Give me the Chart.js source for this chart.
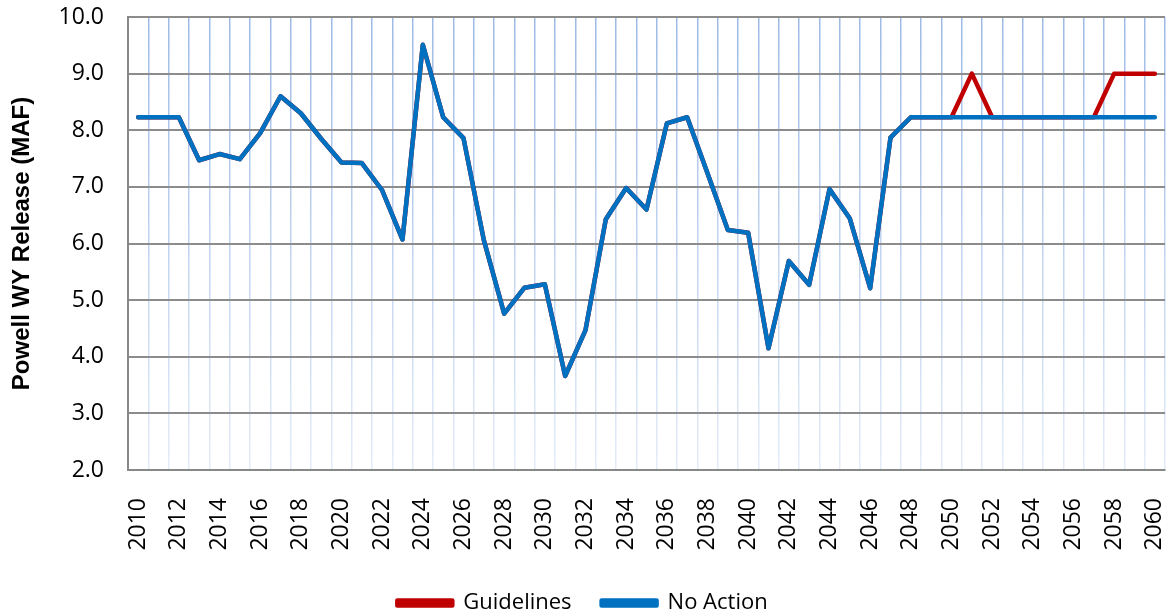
<!DOCTYPE html>
<html>
<head>
<meta charset="utf-8">
<script src="https://cdn.jsdelivr.net/npm/chart.js@4"></script>
<style>
  html, body { margin: 0; padding: 0; background: #fff; }
  #wrap { width: 1170px; height: 616px; }
</style>
</head>
<body>
<div id="wrap"><canvas id="c" width="1170" height="616"></canvas></div>
<script>
const years = [];
for (let y = 2010; y <= 2060; y++) years.push(String(y));

const noAction = [
  8.23, 8.23, 8.23, 7.47, 7.58, 7.49, 7.95, 8.60, 8.30, 7.85,
  7.43, 7.42, 6.94, 6.07, 9.51, 8.23, 7.86, 6.06, 4.76, 5.22,
  5.28, 3.66, 4.47, 6.43, 6.98, 6.60, 8.12, 8.23, 7.24, 6.24,
  6.19, 4.15, 5.69, 5.27, 6.96, 6.44, 5.21, 7.87, 8.23, 8.23,
  8.23, 8.23, 8.23, 8.23, 8.23, 8.23, 8.23, 8.23, 8.23, 8.23,
  8.23
];
const guidelines = [
  8.23, 8.23, 8.23, 7.47, 7.58, 7.49, 7.95, 8.60, 8.30, 7.85,
  7.43, 7.42, 6.94, 6.07, 9.51, 8.23, 7.86, 6.06, 4.76, 5.22,
  5.28, 3.66, 4.47, 6.43, 6.98, 6.60, 8.12, 8.23, 7.24, 6.24,
  6.19, 4.15, 5.69, 5.27, 6.96, 6.44, 5.21, 7.87, 8.23, 8.23,
  8.23, 9.00, 8.23, 8.23, 8.23, 8.23, 8.23, 8.23, 9.00, 9.00,
  9.00
];

const font = '"Open Sans", "Liberation Sans", sans-serif';

// vertical gridlines fade out toward the bottom, like the excel chart
function vGrid(ctx) {
  const area = ctx.chart.chartArea;
  if (!area) return '#A9C3EA';
  const g = ctx.chart.ctx.createLinearGradient(0, area.top, 0, area.bottom);
  g.addColorStop(0, '#9DBAE6');
  g.addColorStop(1, '#E4ECF8');
  return g;
}

// squeeze the legend box so it sits near the bottom edge
const legendFit = {
  id: 'legendFit',
  beforeUpdate(chart) {
    const lg = chart.legend;
    if (!lg || lg._fitWrapped) return;
    const fit = lg.fit;
    lg.fit = function () {
      fit.call(this);
      this.height = 54;
    };
    lg._fitWrapped = true;
  }
};

new Chart(document.getElementById('c'), {
  type: 'line',
  data: {
    labels: years,
    datasets: [
      {
        label: 'Guidelines',
        data: guidelines,
        borderColor: '#C00000',
        backgroundColor: '#C00000',
        borderWidth: 4.5,
        borderCapStyle: 'round',
        borderJoinStyle: 'round',
        pointRadius: 0,
        tension: 0,
        order: 1
      },
      {
        label: 'No Action',
        data: noAction,
        borderColor: '#0070C0',
        backgroundColor: '#0070C0',
        borderWidth: 4.5,
        borderCapStyle: 'round',
        borderJoinStyle: 'round',
        pointRadius: 0,
        tension: 0,
        order: 0
      }
    ]
  },
  plugins: [legendFit],
  options: {
    responsive: false,
    animation: false,
    layout: { padding: { top: 17, right: 5, left: 0, bottom: 0 } },
    plugins: {
      tooltip: { enabled: false },
      legend: {
        position: 'bottom',
        labels: {
          sort: (a, b) => a.datasetIndex - b.datasetIndex,
          boxWidth: 55,
          boxHeight: 5,
          padding: 30,
          color: '#000',
          font: { family: font, size: 22 }
        }
      }
    },
    scales: {
      x: {
        offset: true,
        grid: {
          offset: true,
          color: vGrid,
          lineWidth: 1.5,
          drawTicks: false
        },
        border: { color: '#888', width: 2 },
        ticks: {
          autoSkip: false,
          maxRotation: 90,
          minRotation: 90,
          padding: 28,
          color: '#000',
          font: { family: font, size: 23 },
          callback: function (v, i) { return i % 2 === 0 ? this.getLabelForValue(v) : ''; }
        },
        afterFit: s => { s.height = 92; s.paddingLeft = 0; s.paddingRight = 0; }
      },
      y: {
        min: 2,
        max: 10,
        grid: { color: '#8c8c8c', lineWidth: 2, drawTicks: false },
        border: { color: '#888', width: 2 },
        ticks: {
          stepSize: 1,
          padding: 24,
          color: '#000',
          font: { family: font, size: 23 },
          callback: v => v.toFixed(1)
        },
        title: {
          display: true,
          text: 'Powell WY Release (MAF)',
          color: '#000',
          font: { family: '"Liberation Sans", Arial, sans-serif', size: 24, weight: 'bold' },
          padding: { top: 8, bottom: 0 }
        },
        afterFit: s => { s.width = 128; s.paddingTop = 0; s.paddingBottom = 0; }
      }
    }
  }
});
</script>
</body>
</html>
